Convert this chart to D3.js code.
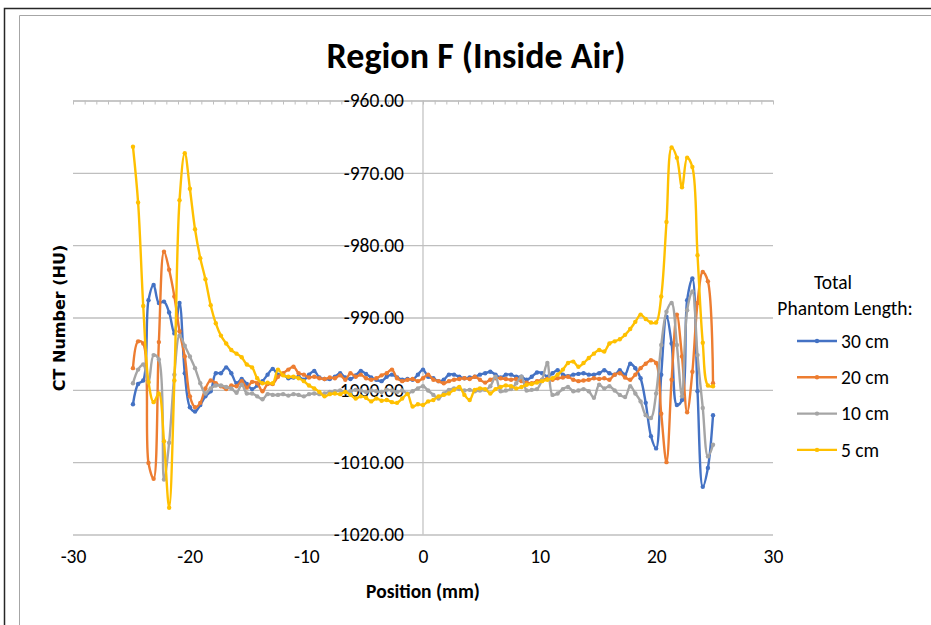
<!DOCTYPE html>
<html><head><meta charset="utf-8">
<script src="https://cdn.jsdelivr.net/npm/d3@7/dist/d3.min.js"></script>
<style>body{margin:0;background:#fff} svg{display:block}</style>
</head><body>
<svg id="chart" width="931" height="625"></svg>
<script>
const positions = [-24.86,-24.42,-23.98,-23.53,-23.09,-22.64,-22.20,-21.76,-21.31,-20.87,-20.42,-19.98,-19.54,-19.09,-18.65,-18.20,-17.76,-17.32,-16.87,-16.43,-15.98,-15.54,-15.10,-14.65,-14.21,-13.76,-13.32,-12.88,-12.43,-11.99,-11.54,-11.10,-10.66,-10.21,-9.77,-9.32,-8.88,-8.44,-7.99,-7.55,-7.10,-6.66,-6.22,-5.77,-5.33,-4.88,-4.44,-4.00,-3.55,-3.11,-2.66,-2.22,-1.78,-1.33,-0.89,-0.44,0.00,0.44,0.89,1.33,1.78,2.22,2.66,3.11,3.55,4.00,4.44,4.88,5.33,5.77,6.22,6.66,7.10,7.55,7.99,8.44,8.88,9.32,9.77,10.21,10.66,11.10,11.54,11.99,12.43,12.88,13.32,13.76,14.21,14.65,15.10,15.54,15.98,16.43,16.87,17.32,17.76,18.20,18.65,19.09,19.54,19.98,20.42,20.87,21.31,21.76,22.20,22.64,23.09,23.53,23.98,24.42,24.86];

const series30 = [-1002.0,-999.2,-998.7,-987.6,-985.5,-988.0,-987.8,-989.3,-992.2,-988.0,-997.7,-1002.4,-1003.0,-1002.1,-1000.9,-1000.2,-997.7,-997.7,-996.9,-997.7,-999.1,-998.5,-999.2,-999.9,-999.4,-998.8,-997.9,-997.1,-997.9,-997.9,-998.4,-998.3,-998.2,-998.6,-997.9,-997.4,-998.3,-998.5,-998.5,-998.2,-997.7,-998.3,-998.5,-998.0,-997.4,-997.8,-998.3,-998.6,-998.8,-998.2,-997.9,-998.3,-998.6,-998.5,-998.6,-997.9,-997.2,-998.2,-998.4,-998.8,-998.6,-997.9,-997.9,-998.2,-998.4,-998.3,-998.2,-997.9,-997.7,-997.5,-997.9,-998.3,-997.9,-997.9,-998.2,-998.2,-998.6,-998.2,-997.6,-997.7,-998.2,-997.7,-997.3,-997.9,-998.1,-997.9,-997.8,-997.7,-997.9,-997.9,-997.7,-997.3,-997.7,-997.9,-997.3,-997.9,-996.4,-997.0,-998.4,-1001.8,-1006.4,-1008.1,-997.9,-989.9,-993.6,-1002.1,-1001.4,-987.6,-984.6,-1000.2,-1013.4,-1010.8,-1003.5];

const series20 = [-997.0,-993.3,-993.6,-1010.1,-1012.3,-993.4,-980.9,-983.4,-987.1,-991.9,-995.4,-1000.9,-1002.4,-1001.8,-999.8,-998.7,-999.1,-999.5,-999.9,-999.4,-999.5,-998.8,-999.7,-998.9,-999.1,-1000.2,-999.2,-999.2,-998.2,-997.7,-997.2,-996.8,-997.7,-997.9,-998.3,-998.2,-998.4,-998.5,-998.3,-998.4,-998.0,-998.6,-997.7,-998.2,-997.9,-998.4,-998.6,-998.4,-998.0,-997.7,-997.2,-998.4,-998.8,-998.6,-998.5,-998.8,-998.4,-997.9,-998.6,-998.8,-999.1,-998.8,-998.6,-998.5,-998.4,-998.5,-998.2,-998.6,-999.0,-998.6,-998.4,-998.4,-998.5,-998.6,-998.5,-998.8,-999.0,-999.1,-998.8,-998.6,-998.5,-998.6,-998.4,-998.3,-998.2,-998.6,-998.8,-998.7,-998.6,-998.4,-998.5,-998.4,-998.6,-997.9,-997.7,-998.3,-998.6,-997.9,-997.0,-996.4,-995.9,-996.3,-1003.3,-1010.0,-998.6,-989.6,-995.4,-1003.1,-997.5,-988.0,-983.7,-985.0,-999.1];

const series10 = [-999.1,-997.2,-996.5,-999.0,-995.2,-995.8,-1012.4,-1007.3,-997.9,-992.5,-993.9,-995.4,-997.0,-999.1,-1000.5,-999.8,-999.4,-999.4,-999.6,-999.8,-1000.4,-999.3,-1000.5,-1000.5,-1000.9,-1001.3,-1000.6,-1000.7,-1000.7,-1000.6,-1000.8,-1000.6,-1000.7,-1000.9,-1000.6,-1000.5,-1000.6,-1000.5,-1000.3,-1000.2,-1000.1,-1000.3,-1000.2,-1000.0,-1000.1,-1000.3,-1000.1,-1000.2,-1000.3,-1000.0,-1000.1,-1000.3,-1000.1,-1000.5,-1000.2,-999.8,-999.5,-1000.1,-1000.7,-1001.2,-1000.5,-1000.0,-999.8,-999.9,-1000.1,-1000.0,-1000.2,-1000.1,-1000.0,-999.5,-998.2,-1000.2,-1000.1,-999.9,-999.1,-998.2,-1000.1,-1000.0,-999.9,-998.6,-996.3,-1000.7,-1000.5,-999.9,-999.6,-1000.2,-1000.1,-999.9,-1000.2,-1001.1,-999.3,-999.8,-999.5,-1000.1,-1000.7,-1001.0,-999.5,-1000.5,-1001.6,-1003.5,-1003.9,-1000.5,-993.8,-989.2,-988.0,-993.8,-1000.9,-989.0,-986.4,-995.2,-1002.5,-1009.2,-1007.6];

const series5 = [-966.4,-974.1,-988.4,-998.9,-1001.7,-1000.5,-1007.1,-1016.3,-998.7,-973.8,-967.3,-972.2,-977.8,-981.8,-984.7,-988.3,-990.8,-992.5,-993.6,-994.5,-995.0,-995.5,-996.5,-996.9,-998.4,-999.1,-999.0,-999.1,-997.2,-998.0,-998.2,-998.2,-998.4,-998.8,-999.4,-999.8,-1000.3,-1000.9,-1000.6,-1000.5,-1000.6,-1000.3,-1000.7,-1001.2,-1000.9,-1001.1,-1001.6,-1001.2,-1001.5,-1001.4,-1001.7,-1001.8,-1001.2,-1000.6,-1002.3,-1002.0,-1002.1,-1001.6,-1001.4,-1000.9,-1000.7,-1000.5,-1000.0,-999.6,-1000.7,-1001.4,-1000.0,-999.8,-999.9,-1000.5,-999.9,-999.6,-999.4,-999.5,-999.8,-999.6,-999.3,-999.2,-999.0,-998.8,-998.6,-998.4,-997.9,-997.2,-996.3,-996.1,-996.8,-996.3,-995.6,-995.0,-994.5,-994.7,-993.6,-993.3,-993.0,-992.4,-991.6,-990.6,-989.6,-990.2,-990.7,-990.7,-987.1,-976.8,-966.5,-967.9,-972.0,-967.9,-969.2,-981.4,-993.5,-999.4,-999.5];

const seriesNames = ["30 cm", "20 cm", "10 cm", "5 cm"];
const seriesColors = ["#4472C4", "#ED7D31", "#A5A5A5", "#FFC000"];
const xTickValues = [-30, -20, -10, 0, 10, 20, 30];
const yTickValues = [-960, -970, -980, -990, -1000, -1010, -1020];
const chartTitle = "Region F (Inside Air)";
const xTitle = "Position (mm)";
const yTitle = "CT Number (HU)";
const legendTitle = ["Total", "Phantom Length:"];

const allSeries = [series30, series20, series10, series5];
const FONT = "Carlito, Lato, 'Open Sans', sans-serif";

const svg = d3.select("#chart");
svg.append("rect").attr("width", 931).attr("height", 625).attr("fill", "#fff");
// frames
svg.append("path").attr("d", "M4.5,640 V8.5 H940").attr("fill", "none").attr("stroke", "#262626").attr("stroke-width", 1.5);
svg.append("path").attr("d", "M19.5,640 V15.5 H940").attr("fill", "none").attr("stroke", "#a6a6a6").attr("stroke-width", 1);

const x = d3.scaleLinear().domain([-30, 30]).range([73, 773]);
const y = d3.scaleLinear().domain([-1020, -960]).range([534.5, 100.5]);

// gridlines
const grid = svg.append("g").attr("transform", "translate(73,0)")
  .call(d3.axisLeft(y).tickValues(yTickValues).tickSize(-700).tickFormat(""));
grid.select(".domain").remove();
grid.selectAll("line").attr("stroke", "#bfbfbf").attr("stroke-width", 1.3);

// vertical axis line at x=0
svg.append("line").attr("x1", x(0)).attr("x2", x(0)).attr("y1", y(-960)).attr("y2", y(-1020))
  .attr("stroke", "#bfbfbf").attr("stroke-width", 1.2);

// top axis line with minor ticks
const minorTicks = d3.range(-30, 31, 1);
const topAxis = svg.append("g").attr("transform", `translate(0,${y(-960)})`)
  .call(d3.axisBottom(x).tickValues(minorTicks).tickSize(4).tickSizeOuter(0).tickFormat(""));
topAxis.select(".domain").attr("stroke", "#bfbfbf").attr("stroke-width", 1.2);
topAxis.selectAll("line").attr("stroke", "#bfbfbf");

// y labels
const yLab = svg.append("g").attr("transform", `translate(${x(0)},0)`)
  .call(d3.axisLeft(y).tickValues(yTickValues).tickSize(0).tickPadding(19).tickFormat(d => d.toFixed(2)));
yLab.select(".domain").remove();
yLab.selectAll("text").attr("font-family", FONT).attr("font-size", 19.5).attr("fill", "#000");

// x labels at bottom
const xLab = svg.append("g").attr("transform", "translate(0,549)")
  .call(d3.axisBottom(x).tickValues(xTickValues).tickSize(0).tickPadding(0).tickFormat(d => String(d)));
xLab.select(".domain").remove();
xLab.selectAll("text").attr("font-family", FONT).attr("font-size", 19.5).attr("fill", "#000").attr("dy", "0.71em");

// lines
const line = d3.line().x(d => x(d[0])).y(d => y(d[1])).curve(d3.curveCatmullRom.alpha(0.5));
allSeries.forEach((s, k) => {
  const pts = positions.map((p, i) => [p, s[i]]);
  const g = svg.append("g");
  g.append("path").attr("d", line(pts)).attr("fill", "none").attr("stroke", seriesColors[k])
    .attr("stroke-width", 2.4).attr("stroke-linejoin", "round").attr("stroke-linecap", "round");
  g.selectAll("circle").data(pts).join("circle").attr("cx", d => x(d[0])).attr("cy", d => y(d[1]))
    .attr("r", 2.2).attr("fill", seriesColors[k]);
});

// titles
svg.append("text").attr("x", 476).attr("y", 68).attr("text-anchor", "middle")
  .attr("font-family", FONT).attr("font-weight", "bold").attr("font-size", 36).text(chartTitle);
svg.append("text").attr("x", 423).attr("y", 598).attr("text-anchor", "middle")
  .attr("font-family", FONT).attr("font-weight", "bold").attr("font-size", 19.5).text(xTitle);
svg.append("text").attr("transform", "translate(65,318) rotate(-90)").attr("text-anchor", "middle")
  .attr("font-family", "'DejaVu Sans', Verdana, sans-serif").attr("font-weight", "bold").attr("font-size", 16).text(yTitle);

// legend
const lg = svg.append("g");
lg.selectAll("text.lt").data(legendTitle).join("text").attr("class", "lt")
  .attr("x", (d, i) => i === 0 ? 833 : 845).attr("y", (d, i) => 289 + i * 26)
  .attr("text-anchor", "middle").attr("font-family", FONT).attr("font-size", 19.5).text(d => d);
const items = lg.selectAll("g.item").data(seriesNames).join("g").attr("class", "item")
  .attr("transform", (d, i) => `translate(0,${341 + i * 36.3})`);
items.append("line").attr("x1", 797).attr("x2", 837).attr("y1", 0).attr("y2", 0)
  .attr("stroke", (d, i) => seriesColors[i]).attr("stroke-width", 2.4);
items.append("circle").attr("cx", 817).attr("cy", 0).attr("r", 2.2).attr("fill", (d, i) => seriesColors[i]);
items.append("text").attr("x", 841).attr("y", 0).attr("dy", "0.35em")
  .attr("font-family", FONT).attr("font-size", 19.5).text(d => d);
</script>
</body></html>
